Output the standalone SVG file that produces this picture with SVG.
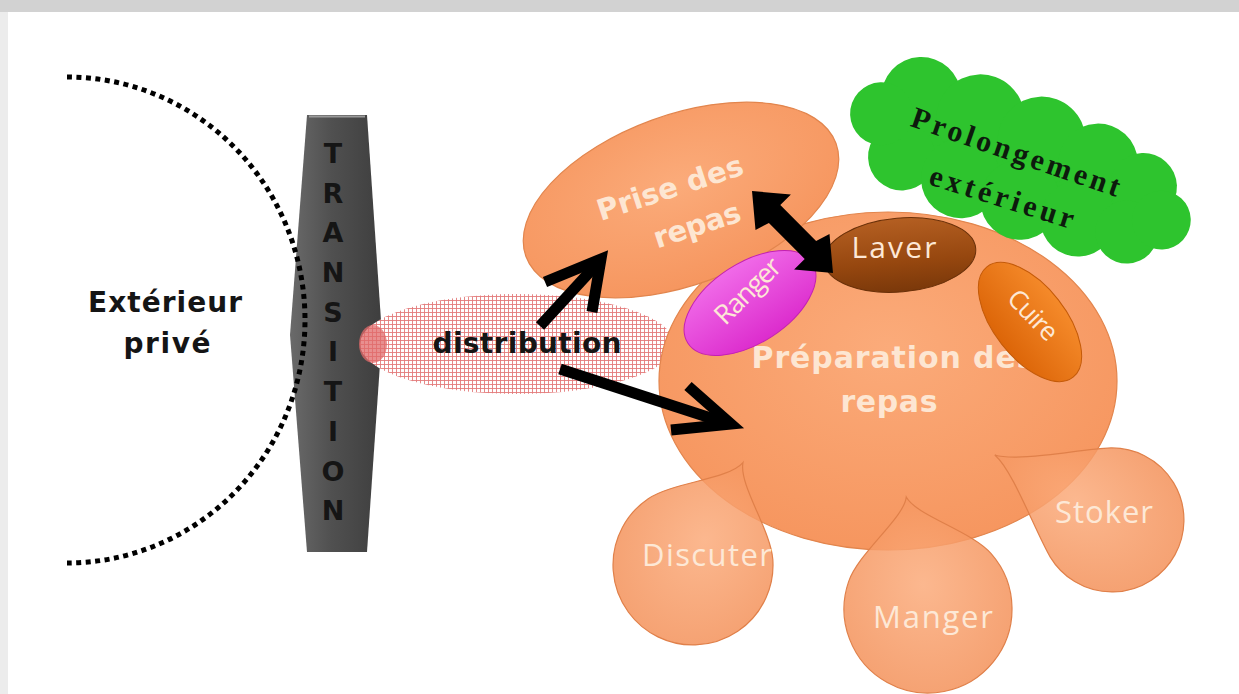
<svg xmlns="http://www.w3.org/2000/svg" width="1239" height="694" viewBox="0 0 1239 694">
<style>
.bold{font-family:"DejaVu Sans","Verdana",sans-serif;font-weight:bold;}
.lbl{font-family:"Open Sans","Liberation Sans",sans-serif;fill:#fde8d6;}
.wb{fill:#fde6d2;}
.blk{fill:#151515;}
.orange{stroke:#e2854d;stroke-width:1.2;}
.drop{stroke:#e0804a;stroke-width:1.2;fill-opacity:0.85;}
.arrow{fill:none;stroke:#000;stroke-width:11;stroke-linejoin:miter;}
.serif{font-family:"Liberation Serif","Times New Roman",serif;font-weight:bold;fill:#0d1a0d;}
</style>
<defs>
<radialGradient id="og" cx="50%" cy="40%" r="60%">
<stop offset="0" stop-color="#fbab7a"/><stop offset="1" stop-color="#f6965f"/>
</radialGradient>
<radialGradient id="dg" cx="50%" cy="45%" r="60%">
<stop offset="0" stop-color="#fbab7b"/><stop offset="1" stop-color="#f39058"/>
</radialGradient>
<linearGradient id="bar" x1="0" y1="0" x2="1" y2="0">
<stop offset="0" stop-color="#6a6a6a"/><stop offset="0.45" stop-color="#505050"/><stop offset="1" stop-color="#3e3e3e"/>
</linearGradient>
<linearGradient id="pink" x1="0" y1="0" x2="0" y2="1">
<stop offset="0" stop-color="#f06ae8"/><stop offset="1" stop-color="#dc2ccd"/>
</linearGradient>
<linearGradient id="brown" x1="0" y1="0" x2="0" y2="1">
<stop offset="0" stop-color="#b45f22"/><stop offset="0.6" stop-color="#96470f"/><stop offset="1" stop-color="#7a380a"/>
</linearGradient>
<linearGradient id="orng" x1="0" y1="0" x2="0" y2="1">
<stop offset="0" stop-color="#f58a2a"/><stop offset="1" stop-color="#dc6508"/>
</linearGradient>
<pattern id="chk" width="4" height="4" patternUnits="userSpaceOnUse">
<rect width="4" height="4" fill="#ffffff"/>
<path d="M0 0.5H4M0.5 0V4" stroke="#e37a7a" stroke-width="0.9"/>
</pattern>
</defs>

<rect width="1239" height="694" fill="#ffffff"/>
<rect x="0" y="0" width="1239" height="12" fill="#d2d2d2"/>
<rect x="0" y="12" width="8" height="682" fill="#ececec"/>

<g id="transition">
<polygon points="307,115 367,115 382,335 367,552 307,552 290,335" fill="url(#bar)"/>
<line x1="309" y1="116.5" x2="365" y2="116.5" stroke="#9a9a9a" stroke-width="2"/>
<g class="bold blk" font-size="27" text-anchor="middle">
<text x="333" y="163">T</text>
<text x="333" y="203">R</text>
<text x="333" y="242">A</text>
<text x="333" y="282">N</text>
<text x="333" y="322">S</text>
<text x="333" y="361">I</text>
<text x="333" y="401">T</text>
<text x="333" y="441">I</text>
<text x="333" y="481">O</text>
<text x="333" y="520">N</text>
</g>
</g>

<g id="exterieur-prive">
<path d="M67,77 A238 243 0 0 1 67,563" fill="none" stroke="#000" stroke-width="5" stroke-dasharray="5 4.5"/>
<text class="bold blk" font-size="28" text-anchor="middle" x="165" y="312" textLength="154">Extérieur</text>
<text class="bold blk" font-size="28" text-anchor="middle" x="167" y="353" textLength="87">privé</text>
</g>

<g id="distribution">
<ellipse cx="517" cy="344" rx="157" ry="50" fill="url(#chk)"/>
<ellipse cx="373" cy="344" rx="14" ry="19" fill="#e06a6a" opacity="0.75"/>
<text class="bold blk" font-size="28" text-anchor="middle" x="527" y="353" textLength="189">distribution</text>
</g>

<g id="preparation">
<ellipse cx="888" cy="381" rx="229" ry="169" fill="url(#og)" class="orange"/>
<text class="bold wb" font-size="30" text-anchor="middle" x="893" y="368" textLength="283">Préparation des</text>
<text class="bold wb" font-size="30" text-anchor="middle" x="889" y="412" textLength="97">repas</text>
</g>

<g id="prise">
<ellipse cx="0" cy="0" rx="165" ry="85" transform="translate(681,200) rotate(-20)" fill="url(#og)" class="orange"/>
<text class="bold wb" font-size="29" text-anchor="middle" transform="translate(670,188) rotate(-18)" x="0" y="10" textLength="152">Prise des</text>
<text class="bold wb" font-size="29" text-anchor="middle" transform="translate(697,225) rotate(-18)" x="0" y="10" textLength="90">repas</text>
</g>

<g id="discuter">
<path transform="translate(693,565) rotate(26)" d="M0,-114 C6,-92 54,-66 69.3,-40 A80 80 0 1 1 -69.3,-40 C-54,-66 -6,-92 0,-114 Z" fill="url(#dg)" class="drop"/>
<text class="lbl" font-size="31" text-anchor="middle" x="707" y="566" textLength="130">Discuter</text>
</g>

<g id="manger">
<path transform="translate(928,609) rotate(-11)" d="M0,-114 C6,-94 58,-68 72.7,-42 A84 84 0 1 1 -72.7,-42 C-58,-68 -6,-94 0,-114 Z" fill="url(#dg)" class="drop"/>
<text class="lbl" font-size="31" text-anchor="middle" x="933" y="628" textLength="120">Manger</text>
</g>

<g id="stoker">
<path transform="translate(1112,520) rotate(-61)" d="M0,-134 C5,-110 47,-62 62.4,-36 A72 72 0 1 1 -62.4,-36 C-47,-62 -5,-110 0,-134 Z" fill="url(#dg)" class="drop"/>
<text class="lbl" font-size="31" text-anchor="middle" x="1104" y="523" textLength="98">Stoker</text>
</g>

<g id="ranger">
<ellipse cx="0" cy="0" rx="74" ry="40" transform="translate(750,303) rotate(-33)" fill="url(#pink)" stroke="#c21fb4" stroke-width="1"/>
<text class="lbl" font-size="27" text-anchor="middle" transform="translate(748,291) rotate(-45)" x="0" y="9" textLength="82">Ranger</text>
</g>

<g id="laver">
<ellipse cx="0" cy="0" rx="76" ry="37" transform="translate(900,255) rotate(-5)" fill="url(#brown)" stroke="#6a3008" stroke-width="1"/>
<text class="lbl" font-size="30" text-anchor="middle" x="894" y="258" textLength="85">Laver</text>
</g>

<g id="cuire">
<ellipse cx="0" cy="0" rx="70" ry="36" transform="translate(1030,322) rotate(52)" fill="url(#orng)" stroke="#c45a08" stroke-width="1"/>
<text class="lbl" font-size="26" text-anchor="middle" transform="translate(1033,315) rotate(46)" x="0" y="9" textLength="60">Cuire</text>
</g>

<g id="prolongement">
<g transform="translate(1019,166) rotate(20) scale(1.05)" fill="#2ec42e">
<ellipse cx="0" cy="0" rx="140" ry="45"/>
<circle cx="-110" cy="-30" r="38"/>
<circle cx="-50" cy="-30" r="42"/>
<circle cx="12" cy="-30" r="42"/>
<circle cx="70" cy="-28" r="38"/>
<circle cx="118" cy="-22" r="32"/>
<circle cx="-108" cy="30" r="32"/>
<circle cx="-48" cy="30" r="38"/>
<circle cx="12" cy="30" r="38"/>
<circle cx="70" cy="28" r="36"/>
<circle cx="118" cy="24" r="30"/>
<circle cx="-140" cy="-2" r="30"/>
<circle cx="145" cy="2" r="28"/>
</g>
<text class="serif" font-size="30" text-anchor="middle" transform="translate(1016,152) rotate(19)" x="0" y="10" textLength="219">Prolongement</text>
<text class="serif" font-size="30" text-anchor="middle" transform="translate(1002,197) rotate(17.5)" x="0" y="10" textLength="150">extérieur</text>
</g>

<g id="connectors">
<path class="arrow" d="M540,326 L597,264"/>
<polyline class="arrow" points="545,282 601,259 592,312"/>
<path class="arrow" d="M560,369 L726,423"/>
<polyline class="arrow" points="688,386 731,424 671,430"/>
<polygon fill="#000" points="752,191 790.9,194.5 780.3,205.1 816.1,240.9 829.5,234.1 833,273 794.1,269.5 804.7,258.9 768.9,223.1 755.5,229.9"/>
</g>
</svg>
